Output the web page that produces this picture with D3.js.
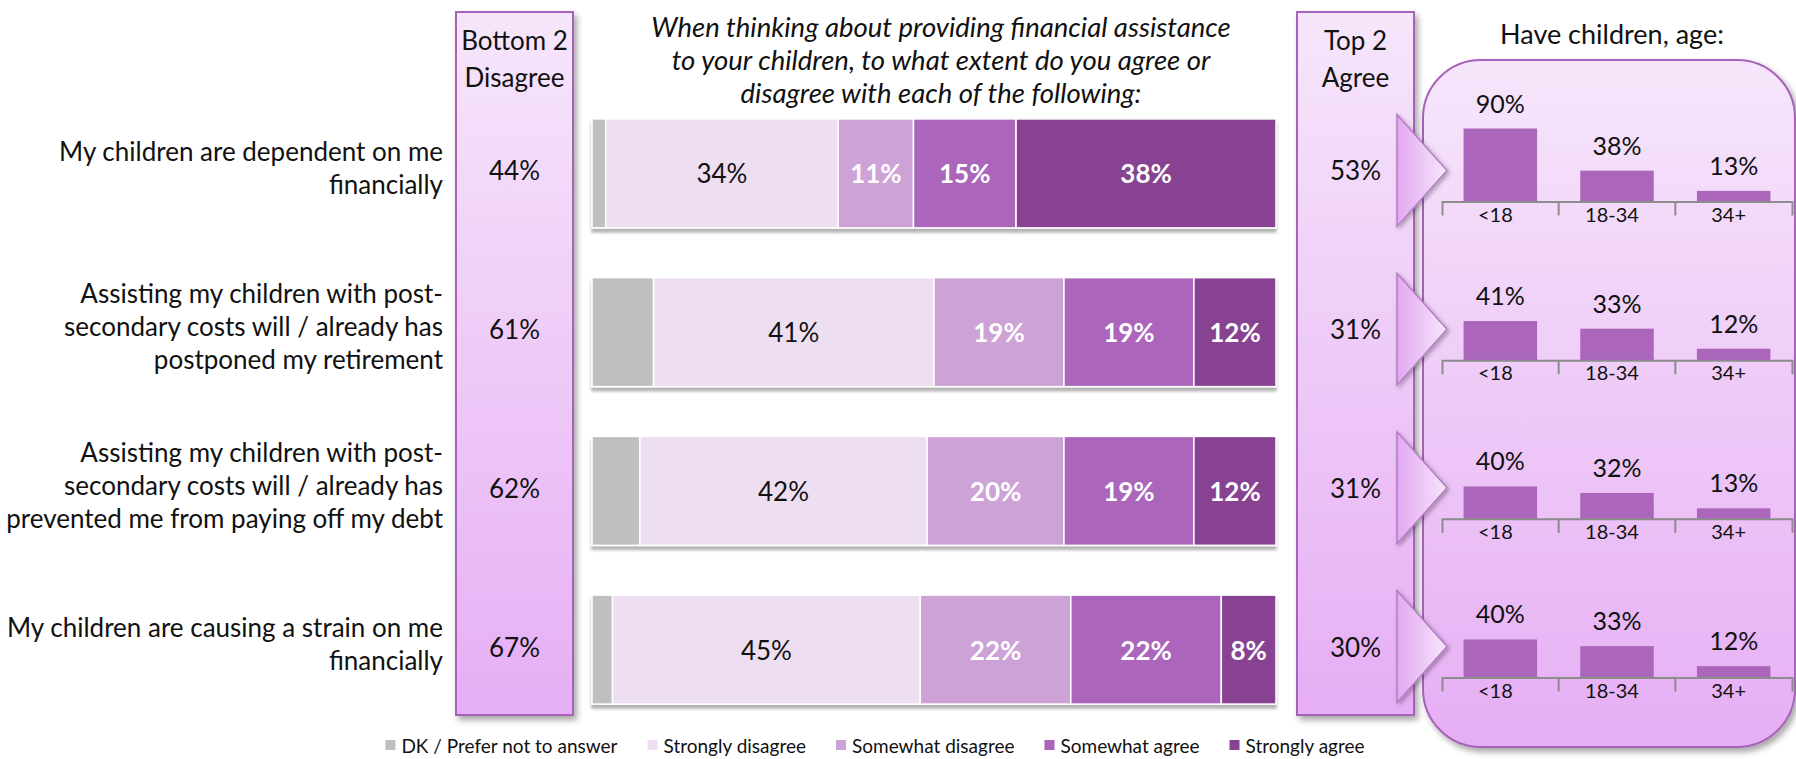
<!DOCTYPE html>
<html>
<head>
<meta charset="utf-8">
<script src="https://cdn.jsdelivr.net/npm/d3@7"></script>
<style>
  body { margin: 0; background: #fff; }
  svg text { font-family: Lato, "Open Sans", sans-serif; fill: #111; }
</style>
</head>
<body>
<svg id="chart" width="1796" height="759"></svg>
<script>
// ---- data ----
const statements = [
  ["My children are dependent on me", "financially"],
  ["Assisting my children with post-", "secondary costs will / already has", "postponed my retirement"],
  ["Assisting my children with post-", "secondary costs will / already has", "prevented me from paying off my debt"],
  ["My children are causing a strain on me", "financially"]
];
const categories = ["DK / Prefer not to answer", "Strongly disagree", "Somewhat disagree", "Somewhat agree", "Strongly agree"];
const dkValues = [2, 9, 7, 3];
const stronglyDisagree = [34, 41, 42, 45];
const somewhatDisagree = [11, 19, 20, 22];
const somewhatAgree = [15, 19, 19, 22];
const stronglyAgree = [38, 12, 12, 8];
const bottom2 = [44, 61, 62, 67];
const top2 = [53, 31, 31, 30];
const ageGroups = ["<18", "18-34", "34+"];
const under18 = [90, 41, 40, 40];
const age18to34 = [38, 33, 32, 33];
const age34plus = [13, 12, 13, 12];
const miniAxisMax = [100, 85, 100, 85];

const colors = ["#bfbfbf", "#eddff1", "#cda2d6", "#ab65bb", "#874391"];
const purple = "#a862b9";

const svg = d3.select("#chart");
const defs = svg.append("defs");

// gradients + shadows
const boxGrad = defs.append("linearGradient").attr("id", "boxGrad")
  .attr("x1", 0).attr("y1", 0).attr("x2", 0).attr("y2", 1);
boxGrad.append("stop").attr("offset", "0%").attr("stop-color", "#f6e6fb");
boxGrad.append("stop").attr("offset", "100%").attr("stop-color", "#e6aef4");

const arrowGrad = defs.append("linearGradient").attr("id", "arrowGrad")
  .attr("x1", 0).attr("y1", 0).attr("x2", 1).attr("y2", 0);
arrowGrad.append("stop").attr("offset", "0%").attr("stop-color", "#e2a8f1");
arrowGrad.append("stop").attr("offset", "100%").attr("stop-color", "#f7e7fb");

function shadow(id, dx, dy, sd, op) {
  defs.append("filter").attr("id", id)
    .attr("x", "-20%").attr("y", "-20%").attr("width", "140%").attr("height", "140%")
    .append("feDropShadow").attr("dx", dx).attr("dy", dy)
    .attr("stdDeviation", sd).attr("flood-color", "#000").attr("flood-opacity", op);
}
shadow("boxShadow", 3, 4, 3, 0.35);
shadow("barShadow", 0, 4, 1.5, 0.3);
shadow("lineShadow", 0, 3, 1.5, 0.35);
shadow("arrowShadow", 2, 2, 2, 0.3);

// ---- scales ----
const rows = d3.range(statements.length);
const y = d3.scaleBand().domain(rows).range([94, 729]).paddingInner(0.3135).paddingOuter(0.157);
const x = d3.scaleLinear().domain([0, 100]).range([592, 1276]);
const gap = y.step() * y.paddingInner();

// ---- title ----
const title = ["When thinking about providing financial assistance",
  "to your children, to what extent do you agree or",
  "disagree with each of the following:"];
svg.append("g").selectAll("text").data(title).join("text")
  .attr("x", 941).attr("y", (d, i) => 26 + i * 33)
  .attr("text-anchor", "middle").attr("dominant-baseline", "central")
  .style("font-style", "italic").style("font-size", "27.5px").text(d => d);

// ---- side boxes ----
function sideBox(x0, w, head, vals) {
  const g = svg.append("g");
  g.append("rect").attr("x", x0).attr("y", 12).attr("width", w).attr("height", 703)
    .attr("fill", "url(#boxGrad)").attr("stroke", purple).attr("stroke-width", 2)
    .attr("filter", "url(#boxShadow)");
  g.selectAll("text.head").data(head).join("text").attr("class", "head")
    .attr("x", x0 + w / 2).attr("y", (d, i) => 40 + i * 37)
    .attr("text-anchor", "middle").attr("dominant-baseline", "central")
    .style("font-size", "26px").text(d => d);
  g.selectAll("line").data(rows).join("line")
    .attr("x1", x0 + 15).attr("x2", x0 + w - 15)
    .attr("y1", r => y(r) - gap / 2).attr("y2", r => y(r) - gap / 2)
    .attr("stroke", purple).attr("stroke-width", 5).attr("filter", "url(#lineShadow)");
  g.selectAll("text.val").data(vals).join("text").attr("class", "val")
    .attr("x", x0 + w / 2).attr("y", (d, i) => y(i) + y.bandwidth() / 2 - 3)
    .attr("text-anchor", "middle").attr("dominant-baseline", "central")
    .style("font-size", "26px").text(d => d + "%");
}

// rounded panel behind the mini charts
svg.append("rect").attr("x", 1423).attr("y", 60).attr("width", 372).attr("height", 687)
  .attr("rx", 58).attr("ry", 58)
  .attr("fill", "url(#boxGrad)").attr("stroke", purple).attr("stroke-width", 2)
  .attr("filter", "url(#boxShadow)");

sideBox(456, 117, ["Bottom 2", "Disagree"], bottom2);
sideBox(1297, 117, ["Top 2", "Agree"], top2);

// ---- row labels ----
const labels = svg.append("g");
statements.forEach((lines, i) => {
  const cy = y(i) + y.bandwidth() / 2 - 6;
  labels.selectAll(null).data(lines).join("text")
    .attr("x", 443).attr("y", (d, j) => cy + (j - (lines.length - 1) / 2) * 33)
    .attr("text-anchor", "end").attr("dominant-baseline", "central")
    .style("font-size", "26px").text(d => d);
});

// ---- stacked bars ----
const series = [dkValues, stronglyDisagree, somewhatDisagree, somewhatAgree, stronglyAgree];
const table = rows.map(r => {
  const o = { row: r };
  categories.forEach((c, k) => o[c] = series[k][r]);
  return o;
});
const stacked = d3.stack().keys(categories)(table);

const bars = svg.append("g").attr("filter", "url(#barShadow)");
stacked.forEach((s, k) => {
  bars.selectAll(null).data(s).join("rect")
    .attr("x", d => x(d[0])).attr("width", d => x(d[1]) - x(d[0]))
    .attr("y", d => y(d.data.row)).attr("height", y.bandwidth())
    .attr("fill", colors[k]).attr("stroke", "#fff").attr("stroke-width", 1.5);
});
const barText = svg.append("g");
stacked.forEach((s, k) => {
  if (k === 0) return;
  barText.selectAll(null).data(s).join("text")
    .attr("x", d => (x(d[0]) + x(d[1])) / 2)
    .attr("y", d => y(d.data.row) + y.bandwidth() / 2)
    .attr("text-anchor", "middle").attr("dominant-baseline", "central")
    .style("font-size", "26px")
    .style("font-weight", k === 1 ? "normal" : "bold")
    .style("fill", k === 1 ? "#111" : "#fff")
    .text(d => (d[1] - d[0]) + "%");
});

// ---- arrows ----
svg.append("g").selectAll("path").data(rows).join("path")
  .attr("d", r => {
    const c = y(r) + y.bandwidth() / 2 - 3;
    return `M1397,${c - 56}L1447,${c}L1397,${c + 56}Z`;
  })
  .attr("fill", "url(#arrowGrad)").attr("stroke", "#b47cc4").attr("stroke-width", 1.5)
  .attr("filter", "url(#arrowShadow)");

// ---- mini charts ----
svg.append("text").attr("x", 1612).attr("y", 33)
  .attr("text-anchor", "middle").attr("dominant-baseline", "central")
  .style("font-size", "27px").text("Have children, age:");

svg.append("g").selectAll("line").data(rows.slice(1)).join("line")
  .attr("x1", 1473).attr("x2", 1749)
  .attr("y1", r => y(r) - gap / 2).attr("y2", r => y(r) - gap / 2)
  .attr("stroke", purple).attr("stroke-width", 5).attr("filter", "url(#lineShadow)");

const xMini = d3.scaleBand().domain(ageGroups).range([1442, 1792])
  .paddingInner(0.37).paddingOuter(0.185);
const ageSeries = [under18, age18to34, age34plus];

rows.forEach(r => {
  const base = y(r) + y.bandwidth() / 2 + 28;
  const yMini = d3.scaleLinear().domain([0, miniAxisMax[r]]).range([base, base - 81]);
  const vals = ageGroups.map((a, k) => ({ age: a, v: ageSeries[k][r] }));
  const g = svg.append("g");
  g.selectAll("rect").data(vals).join("rect")
    .attr("x", d => xMini(d.age)).attr("width", xMini.bandwidth())
    .attr("y", d => yMini(d.v)).attr("height", d => base - yMini(d.v))
    .attr("fill", "#ab65bb");
  g.selectAll("text.v").data(vals).join("text").attr("class", "v")
    .attr("x", d => xMini(d.age) + xMini.bandwidth() / 2)
    .attr("y", d => yMini(d.v) - 26)
    .attr("text-anchor", "middle").attr("dominant-baseline", "central")
    .style("font-size", "25px").text(d => d.v + "%");

  const ax = g.append("g").attr("transform", `translate(0,${base})`)
    .call(d3.axisBottom(xMini).tickSizeInner(0).tickSizeOuter(14).tickPadding(6));
  ax.select(".domain").attr("stroke", "#8c8c8c").attr("stroke-width", 2);
  ax.selectAll(".tick text").style("font-size", "20px").style("font-family", "Lato, sans-serif")
    .attr("fill", "#111").attr("dx", -5);
  // inner boundary ticks between categories
  ax.selectAll("line.sep").data(ageGroups.slice(1)).join("line").attr("class", "sep")
    .attr("x1", d => xMini(d) - xMini.step() * xMini.paddingInner() / 2)
    .attr("x2", d => xMini(d) - xMini.step() * xMini.paddingInner() / 2)
    .attr("y1", 0).attr("y2", 14).attr("stroke", "#8c8c8c").attr("stroke-width", 2);
});

// ---- legend ----
const legend = svg.append("g");
let lx = 0;
categories.forEach((c, k) => {
  const item = legend.append("g").attr("transform", `translate(${lx},0)`);
  item.append("rect").attr("x", 0).attr("y", -5).attr("width", 10).attr("height", 10)
    .attr("fill", colors[k]);
  const t = item.append("text").attr("x", 16).attr("y", 0).attr("dominant-baseline", "central")
    .style("font-size", "19px").text(c);
  lx += 16 + t.node().getComputedTextLength() + 30;
});
legend.attr("transform", `translate(${875 - (lx - 30) / 2},745)`);
</script>
</body>
</html>
